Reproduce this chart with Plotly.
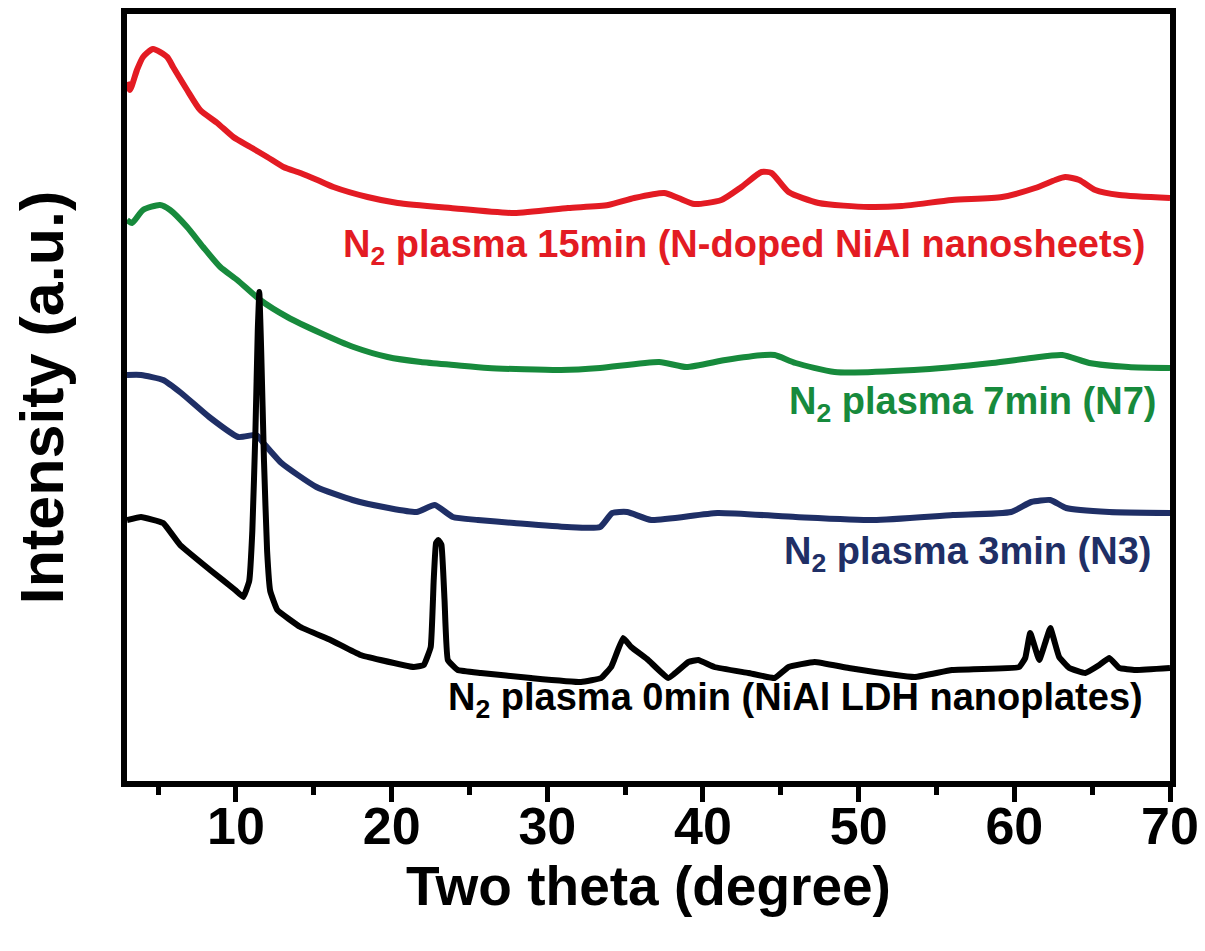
import plotly.graph_objects as go

# XRD patterns (2-theta in degrees, stacked intensity in a.u.)
theta_15 = [3.0, 3.19, 3.64, 4.03, 4.67, 5.58, 5.96, 6.86, 7.70, 8.80, 9.83, 10.92, 12.01,
            13.05, 14.14, 15.23, 16.26, 18.45, 20.39, 23.80, 27.86, 31.33, 33.91, 35.58,
            37.51, 38.42, 39.45, 41.18, 42.47, 43.76, 44.40, 45.50, 47.43, 50.65, 52.77,
            56.0, 59.21, 61.34, 62.63, 63.27, 64.17, 65.20, 66.75, 70.0]
int_15 = [699, 691, 711, 724, 732, 724, 714, 691, 671, 658, 644, 634, 624,
          614, 608, 601, 594, 584, 578, 573, 568, 573, 576, 583,
          588, 583, 577, 581, 594, 609, 608, 589, 578, 574, 575,
          581, 584, 593, 601, 604, 601, 591, 586, 583]

theta_7 = [3.0, 3.32, 4.03, 5.12, 5.77, 6.86, 7.89, 8.99, 10.08, 11.56, 13.30, 15.43,
           17.55, 19.74, 21.87, 23.99, 26.18, 30.88, 33.39, 37.19, 38.93, 41.44, 43.95,
           44.60, 45.95, 48.46, 53.55, 58.57, 61.08, 63.08, 64.82, 67.33, 70.0]
int_7 = [561, 558, 571, 576, 571, 554, 534, 514, 501, 481, 464, 448,
         434, 424, 419, 416, 413, 411, 413, 419, 414, 421, 426,
         426, 418, 409, 411, 418, 423, 426, 418, 414, 413]

theta_3 = [3.0, 3.90, 5.32, 6.48, 8.28, 10.15, 11.31, 11.76, 12.92, 15.17, 17.49, 19.81,
           21.61, 22.77, 23.93, 25.54, 27.86, 31.27, 33.39, 34.17, 35.13, 36.68, 40.93,
           45.95, 50.97, 56.06, 59.79, 61.08, 62.31, 63.33, 66.10, 70.0]
int_3 = [406, 406, 401, 388, 364, 344, 346, 338, 318, 294, 281, 273,
         269, 276, 264, 261, 258, 254, 254, 268, 269, 261, 268,
         264, 261, 266, 269, 279, 281, 273, 269, 268]

theta_0 = [3.0, 3.90, 5.32, 6.41, 8.34, 9.95, 10.47, 10.85, 11.05, 11.25, 11.40, 11.50,
           11.62, 11.80, 12.00, 12.20, 12.66, 14.14, 16.07, 18.00, 19.29, 21.42, 22.06,
           22.51, 22.70, 22.85, 23.00, 23.20, 23.40, 23.61, 24.25, 25.73, 28.95, 32.17,
           33.46, 34.10, 34.29, 34.87, 35.39, 36.48, 37.77, 39.06, 39.70, 40.73, 42.92,
           44.60, 45.50, 47.17, 49.36, 53.61, 55.99, 60.31, 60.70, 61.02, 61.60, 61.98,
           62.31, 62.88, 63.53, 64.56, 65.46, 66.10, 66.75, 67.78, 70.0]
int_0 = [261, 264, 258, 236, 211, 191, 184, 200, 250, 350, 450, 489,
         430, 320, 230, 190, 171, 154, 141, 126, 121, 114, 116,
         134, 200, 238, 241, 236, 180, 121, 111, 108, 103, 99,
         103, 114, 121, 143, 134, 121, 103, 119, 121, 114, 108,
         103, 114, 119, 113, 104, 111, 114, 123, 148, 121, 138,
         153, 124, 113, 108, 116, 123, 113, 111, 113]

series = [
    (theta_15, int_15, "#E31B23", "N<sub>2</sub> plasma 15min (N-doped NiAl nanosheets)", 68.55, 534, 0.6),
    (theta_7, int_7, "#178A3C", "N<sub>2</sub> plasma 7min (N7)", 69.2, 377, 0.6),
    (theta_3, int_3, "#1F2F66", "N<sub>2</sub> plasma 3min (N3)", 68.9, 227, 0.5),
    (theta_0, int_0, "#000000", "N<sub>2</sub> plasma 0min (NiAl LDH nanoplates)", 68.4, 81, 0.3),
]

FONT = "Arial, Liberation Sans, Helvetica, sans-serif"

fig = go.Figure()
annotations = []
for x, y, color, label, lx, ly, smooth in series:
    fig.add_trace(go.Scatter(x=x, y=y, mode="lines",
                             line=dict(color=color, width=6, shape="spline", smoothing=smooth),
                             showlegend=False, hoverinfo="skip"))
    annotations.append(dict(x=lx, y=ly, xref="x", yref="y", text=label,
                            showarrow=False, xanchor="right", yanchor="middle",
                            font=dict(family=FONT, size=38, color=color, weight="bold")))

fig.update_layout(
    width=1205, height=951,
    margin=dict(l=127, r=35, t=14, b=170),
    paper_bgcolor="white", plot_bgcolor="white",
    annotations=annotations,
    font=dict(family=FONT, color="black"),
)
fig.update_xaxes(
    range=[3, 70], tick0=10, dtick=10,
    showline=True, linecolor="black", linewidth=6, mirror=True,
    ticks="outside", ticklen=15, tickwidth=5, tickcolor="black",
    minor=dict(tick0=5, dtick=5, ticks="outside", ticklen=8, tickwidth=5, tickcolor="black"),
    showgrid=False, zeroline=False,
    ticklabelstandoff=-20,
    tickfont=dict(family=FONT, size=52, color="black", weight="bold"),
    title=dict(text="Two theta (degree)", standoff=8,
               font=dict(family=FONT, size=55, color="black", weight="bold")),
    automargin=False,
)
fig.update_yaxes(
    range=[0, 767],
    showline=True, linecolor="black", linewidth=6, mirror=True,
    showticklabels=False, ticks="", showgrid=False, zeroline=False,
    title=dict(text="Intensity (a.u.)", standoff=40,
               font=dict(family=FONT, size=61, color="black", weight="bold")),
    automargin=False,
)

fig.write_html("out.html")
